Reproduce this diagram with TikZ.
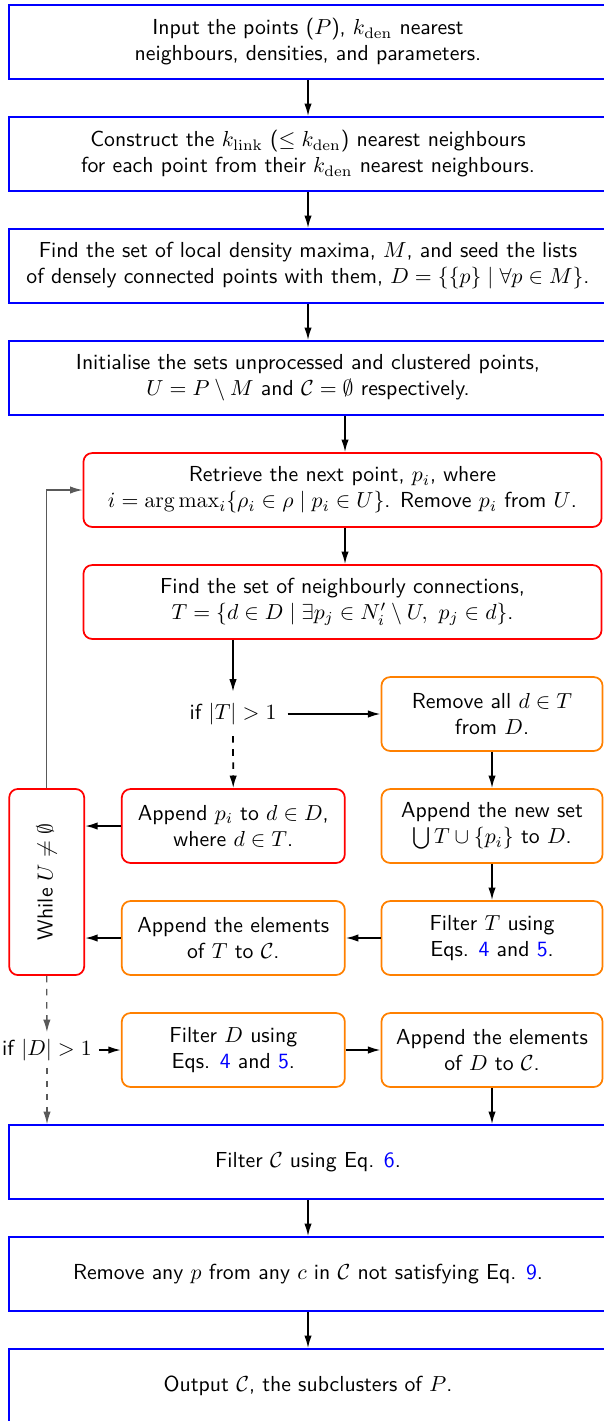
\documentclass[tikz,border=0pt]{standalone}
\usepackage{amsmath}
\usepackage{amssymb}
\usepackage{xcolor}
\usepackage{tikz}
\usetikzlibrary{arrows.meta, positioning, calc}
\renewcommand{\familydefault}{\sfdefault}
\newcommand{\eqnum}[1]{\textcolor{blue}{#1}}

\begin{document}
\begin{tikzpicture}[x=0.46pt, y=-0.46pt,
    bluebox/.style={draw=blue, thick, align=center, inner sep=0pt, minimum width=275pt, minimum height=34pt},
    redbox/.style={draw=red, thick, rounded corners=4pt, align=center, inner sep=0pt, minimum height=34pt},
    orangebox/.style={draw=orange, thick, rounded corners=4pt, align=center, inner sep=0pt, minimum width=101.7pt, minimum height=34pt},
    arr/.style={-{Latex[length=5.8pt, width=3.4pt]}, thick},
    loopline/.style={-{Latex[length=5.8pt, width=3.4pt]}, semithick, gray!70!black}]
      \useasboundingbox (0,0) rectangle (603,1421);

      % setup
      \node[bluebox] (input) at (308,42) {Input the points ($P$), $k_{\mathrm{den}}$ nearest\\ neighbours, densities, and parameters.};
      \node[bluebox] (klink) at (308,154) {Construct the $k_{\mathrm{link}}$ ($\leq k_{\mathrm{den}}$) nearest neighbours\\ for each point from their $k_{\mathrm{den}}$ nearest neighbours.};
      \node[bluebox] (maxima) at (308,266) {Find the set of local density maxima, $M$, and seed the lists\\ of densely connected points with them, $D=\{\{p\}\mid\forall p\in M\}$.};
      \node[bluebox] (init) at (308,378) {Initialise the sets unprocessed and clustered points,\\ $U=P\setminus M$ and $\mathcal{C}=\emptyset$ respectively.};

      % main loop
      \node[redbox, minimum width=238.3pt] (retrieve) at (342.5,490) {Retrieve the next point, $p_i$, where\\ $i=\arg\max_i\{\rho_i\in\rho\mid p_i\in U\}$. Remove $p_i$ from $U$.};
      \node[redbox, minimum width=238.3pt] (conn) at (342.5,602) {Find the set of neighbourly connections,\\ $T=\{d\in D\mid\exists p_j\in N_i'\setminus U,\ p_j\in d\}$.};
      \node[inner sep=5pt] (ift) at (233,714) {if $|T|>1$};
      \node[orangebox] (remove) at (492,714) {Remove all $d\in T$\\ from $D$.};
      \node[redbox, minimum width=102.6pt] (append) at (233.3,826) {Append $p_i$ to $d\in D$,\\ where $d\in T$.};
      \node[orangebox] (newset) at (492,826) {Append the new set\\ $\bigcup T\cup\{p_i\}$ to $D$.};
      \node[orangebox] (filtert) at (492,938) {Filter $T$ using\\ Eqs. \eqnum{4} and \eqnum{5}.};
      \node[orangebox, minimum width=102.6pt] (elemt) at (233.3,938) {Append the elements\\ of $T$ to $\mathcal{C}$.};
      \node[redbox, rotate=90, minimum width=85.6pt, minimum height=34.5pt] (while) at (46.7,882) {While $U\neq\emptyset$};

      % after the loop
      \node[inner sep=3pt] (ifd) at (47,1050) {if $|D|>1$};
      \node[orangebox, minimum width=102.6pt] (filterd) at (233.3,1050) {Filter $D$ using\\ Eqs. \eqnum{4} and \eqnum{5}.};
      \node[orangebox] (elemd) at (492,1050) {Append the elements\\ of $D$ to $\mathcal{C}$.};
      \node[bluebox] (filterc) at (308,1162) {Filter $\mathcal{C}$ using Eq. \eqnum{6}.};
      \node[bluebox] (prune) at (308,1274) {Remove any $p$ from any $c$ in $\mathcal{C}$ not satisfying Eq. \eqnum{9}.};
      \node[bluebox] (output) at (308,1386) {Output $\mathcal{C}$, the subclusters of $P$.};

      \draw[arr] (input) -- (klink);
      \draw[arr] (klink) -- (maxima);
      \draw[arr] (maxima) -- (init);
      \draw[arr] (init.south -| 345,0) -- (retrieve.north -| 345,0);
      \draw[arr] (retrieve.south -| 345,0) -- (conn.north -| 345,0);
      \draw[arr] (conn.south -| ift) -- (ift);
      \draw[arr] (ift) -- (remove);
      \draw[arr, dashed] (ift) -- (append);
      \draw[arr] (remove) -- (newset);
      \draw[arr] (newset) -- (filtert);
      \draw[arr] (filtert) -- (elemt);
      \draw[arr] (append.west) -- (append.west -| while.south);
      \draw[arr] (elemt.west) -- (elemt.west -| while.south);
      \draw[loopline] (while.east) |- (retrieve.west);
      \draw[loopline, dashed] (while.west) -- (ifd);
      \draw[loopline, dashed] (ifd) -- (ifd |- filterc.north);
      \draw[arr] (ifd) -- (filterd);
      \draw[arr] (filterd) -- (elemd);
      \draw[arr] (elemd) -- (elemd |- filterc.north);
      \draw[arr] (filterc) -- (prune);
      \draw[arr] (prune) -- (output);
\end{tikzpicture}
\end{document}
